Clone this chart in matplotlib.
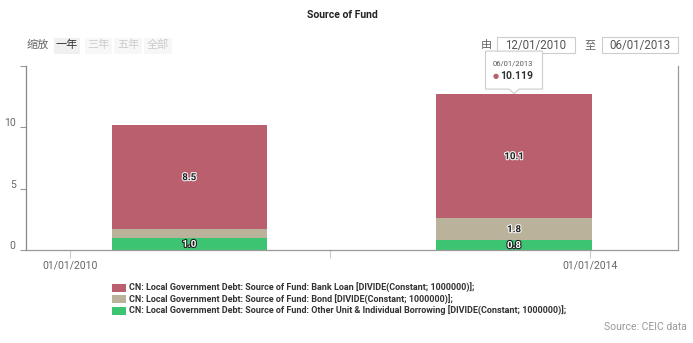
import numpy as np
import matplotlib.pyplot as plt
import matplotlib.dates as mdates
import matplotlib.patheffects as pe
from matplotlib.patches import Rectangle, Polygon
from matplotlib.transforms import ScaledTranslation
from datetime import datetime

plt.rcParams['font.family'] = ['Roboto', 'Noto Sans CJK SC', 'DejaVu Sans']

# data (RMB tn)
periods = [datetime(2010, 12, 1), datetime(2013, 6, 1)]
period_labels = ['12/01/2010', '06/01/2013']
bank_loan = [8.48, 10.119]
bond = [0.70, 1.78]
other = [1.00, 0.81]

series_names = [
    'CN: Local Government Debt: Source of Fund: Bank Loan [DIVIDE(Constant; 1000000)];',
    'CN: Local Government Debt: Source of Fund: Bond [DIVIDE(Constant; 1000000)];',
    'CN: Local Government Debt: Source of Fund: Other Unit & Individual Borrowing [DIVIDE(Constant; 1000000)];',
]
c_bank, c_bond, c_other = '#b95f6e', '#bbb29c', '#3dc472'

x_ticks = [datetime(2010, 1, 1), datetime(2012, 1, 1), datetime(2014, 1, 1)]
x_tick_labels = ['01/01/2010', '', '01/01/2014']
y_ticks = [0, 5, 10, 15]
y_tick_labels = ['0', '5', '10', '']

W, H = 693, 343
fig = plt.figure(figsize=(W / 100, H / 100), dpi=100)


def fx(x):
    return x / W


def fy(y):
    return 1 - y / H


ax = fig.add_axes([fx(26), fy(250), fx(678) - fx(26), fy(66) - fy(250)])

x = mdates.date2num(periods)
width = 437
other = np.array(other)
bond = np.array(bond)
bank_loan = np.array(bank_loan)

b_other = ax.bar(x, other, width=width, color=c_other, linewidth=0)
b_bond = ax.bar(x, bond, width=width, bottom=other, color=c_bond, linewidth=0)
b_bank = ax.bar(x, bank_loan, width=width, bottom=other + bond, color=c_bank, linewidth=0)

# data labels, hidden when the segment is too thin
for vals, bottoms, light in [(other, np.zeros(2), True), (bond, other, False),
                             (bank_loan, other + bond, False)]:
    for xi, v, b in zip(x, vals, bottoms):
        if v < 0.75:
            continue
        if light:
            col, outline = 'white', '#222222'
        else:
            col, outline = '#222222', '#f2f2f2'
        ax.text(xi, b + v / 2, f'{v:.1f}', ha='center', va='center', fontsize=7,
                fontweight='bold', color=col,
                path_effects=[pe.withStroke(linewidth=1.6, foreground=outline)])

ax.set_xlim(mdates.date2num(datetime(2009, 8, 29)), mdates.date2num(datetime(2014, 9, 5)))
ax.set_ylim(0, 15)

ax.set_xticks(mdates.date2num(x_ticks))
ax.set_xticklabels(x_tick_labels)
ax.set_yticks(y_ticks)
ax.set_yticklabels(y_tick_labels)
ax.tick_params(axis='x', length=6, width=0.8, color='#cccccc', labelsize=7.5,
               labelcolor='#666666', pad=1.5)
ax.tick_params(axis='y', length=4.5, width=0.8, color='#999999', labelsize=7.5,
               labelcolor='#666666', pad=3)
for lab in ax.get_yticklabels():
    lab.set_transform(lab.get_transform() + ScaledTranslation(0, 5 / 100, fig.dpi_scale_trans))

ax.spines['top'].set_visible(False)
ax.spines['left'].set_color('#888888')
ax.spines['bottom'].set_color('#999999')
ax.spines['right'].set_color('#999999')
for s in ['left', 'bottom', 'right']:
    ax.spines[s].set_linewidth(0.9)

# title
fig.text(fx(342), fy(15), 'Source of Fund', ha='center', va='center', fontsize=7.5,
         fontweight='bold', color='#222222')

# range selector buttons
fig.text(fx(27), fy(45), '缩放', ha='left', va='center', fontsize=8, color='#666666')
buttons = [('一年', 54, 80, '#333333', '#f0f0f0'), ('三年', 85, 112, '#cccccc', '#f7f7f7'),
           ('五年', 114, 142, '#cccccc', '#f7f7f7'), ('全部', 144, 172, '#cccccc', '#f7f7f7')]
for txt, x0, x1, tc, bg in buttons:
    fig.patches.append(Rectangle((fx(x0), fy(54)), fx(x1) - fx(x0), fy(38) - fy(54),
                                 transform=fig.transFigure, facecolor=bg, edgecolor='none'))
    fig.text(fx((x0 + x1) / 2), fy(45), txt, ha='center', va='center', fontsize=8, color=tc)

# date inputs
fig.text(fx(486), fy(45), '由', ha='center', va='center', fontsize=8, color='#666666')
fig.text(fx(590), fy(45), '至', ha='center', va='center', fontsize=8, color='#666666')
for (x0, x1), txt in zip([(497, 575), (602, 678)], period_labels):
    fig.patches.append(Rectangle((fx(x0), fy(53)), fx(x1) - fx(x0), fy(37) - fy(53),
                                 transform=fig.transFigure, facecolor='white',
                                 edgecolor='#cccccc', linewidth=0.8))
    fig.text(fx((x0 + x1) / 2), fy(45), txt, ha='center', va='center', fontsize=8.3,
             color='#555555')

# tooltip anchored on top of the last bar
tot = other + bond + bank_loan
px, py = ax.transData.transform((x[-1], tot[-1]))
py = H - py
bx0, bx1 = px - 28.5, px + 28.5
by1 = py - 5
by0 = by1 - 38
fig.patches.append(Polygon([(fx(bx0), fy(by0)), (fx(bx1), fy(by0)), (fx(bx1), fy(by1)),
                            (fx(px + 5), fy(by1)), (fx(px), fy(py - 0.5)), (fx(px - 5), fy(by1)),
                            (fx(bx0), fy(by1))], closed=True, transform=fig.transFigure,
                           facecolor='white', edgecolor='#cccccc', linewidth=0.8, zorder=5))
fig.text(fx(bx0 + 7), fy(by0 + 12), period_labels[-1], ha='left', va='center', fontsize=5.5,
         color='#555555', zorder=6)
fig.text(fx(bx0 + 7), fy(by0 + 25), '●', ha='left', va='center', fontsize=5,
         color=c_bank, zorder=6, family=['DejaVu Sans'])
fig.text(fx(bx0 + 15), fy(by0 + 25), f'{bank_loan[-1]:.3f}', ha='left', va='center',
         fontsize=7.5, fontweight='bold', color='#333333', zorder=6)

# legend
leg = fig.legend([b_bank, b_bond, b_other], series_names, loc='upper left',
                 bbox_to_anchor=(fx(112), fy(283)), frameon=False, fontsize=6.5,
                 handlelength=1.6, handleheight=0.95, handletextpad=0.3,
                 labelspacing=0.17, borderpad=0, borderaxespad=0)
for t in leg.get_texts():
    t.set_color('#333333')
    t.set_fontweight('bold')

fig.text(fx(687), fy(327), 'Source: CEIC data', ha='right', va='center', fontsize=7.5,
         color='#999999')

fig.savefig('out.png', dpi=100)
